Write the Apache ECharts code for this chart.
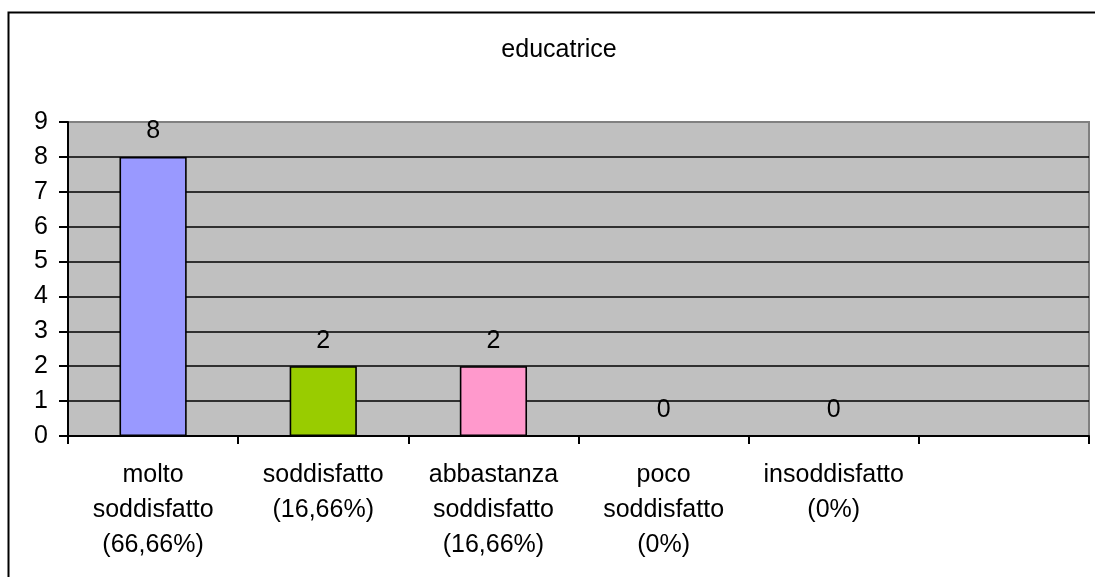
<!DOCTYPE html>
<html>
<head>
<meta charset="utf-8">
<script src="https://cdn.jsdelivr.net/npm/echarts@6/dist/echarts.min.js"></script>
<style>
html,body{margin:0;padding:0;background:#fff;}
#chart{width:1095px;height:577px;}
</style>
</head>
<body>
<div id="chart"></div>
<script>
var titleText = 'educatrice';
var categories = ['molto\nsoddisfatto\n(66,66%)', 'soddisfatto\n(16,66%)', 'abbastanza\nsoddisfatto\n(16,66%)', 'poco\nsoddisfatto\n(0%)', 'insoddisfatto\n(0%)', ''];
var values = [8, 2, 2, 0, 0, null];
var barColors = ['#9999FF', '#99CC00', '#FF99CC', '#9999FF', '#9999FF', '#9999FF'];
var yMin = 0, yMax = 9, yStep = 1;

var font = 'Arial, "Liberation Sans", sans-serif';
var fs = 25;
var chart = echarts.init(document.getElementById('chart'), null, {renderer: 'canvas'});
chart.setOption({
  animation: false,
  backgroundColor: '#ffffff',
  graphic: [{
    type: 'rect', z: 100, silent: true,
    shape: {x: 8.5, y: 12.5, width: 1200, height: 800},
    style: {fill: 'none', stroke: '#000', lineWidth: 2}
  }, {
    type: 'text', z: 100, silent: true,
    x: 559, y: 50,
    style: {text: titleText, font: fs + 'px ' + font, fill: '#000', align: 'center', verticalAlign: 'middle'}
  }],
  grid: {
    left: 68, top: 122, right: 6, bottom: 141,
    show: true, backgroundColor: '#C0C0C0', borderColor: '#808080', borderWidth: 2
  },
  xAxis: {
    type: 'category', data: categories,
    axisLine: {lineStyle: {color: '#000', width: 2}},
    axisTick: {show: true, length: 8, lineStyle: {color: '#000', width: 2}},
    axisLabel: {interval: 0, margin: 22, fontFamily: font, fontSize: fs, color: '#000', lineHeight: 35}
  },
  yAxis: {
    type: 'value', min: yMin, max: yMax, interval: yStep,
    axisLine: {show: true, lineStyle: {color: '#000', width: 2}},
    axisTick: {show: true, length: 9, lineStyle: {color: '#000', width: 2}},
    axisLabel: {margin: 20, fontFamily: font, fontSize: fs, color: '#000'},
    splitLine: {show: true, showMaxLine: false, showMinLine: false, lineStyle: {color: '#000', width: 1.6}}
  },
  series: [{
    type: 'bar', barWidth: '39.5%',
    data: values.map(function (v, i) {
      return {value: v, itemStyle: {color: barColors[i], borderColor: '#000', borderWidth: 1.6}};
    }),
    label: {show: true, position: 'top', distance: 13, fontFamily: font, fontSize: fs, color: '#000'}
  }]
});
</script>
</body>
</html>
